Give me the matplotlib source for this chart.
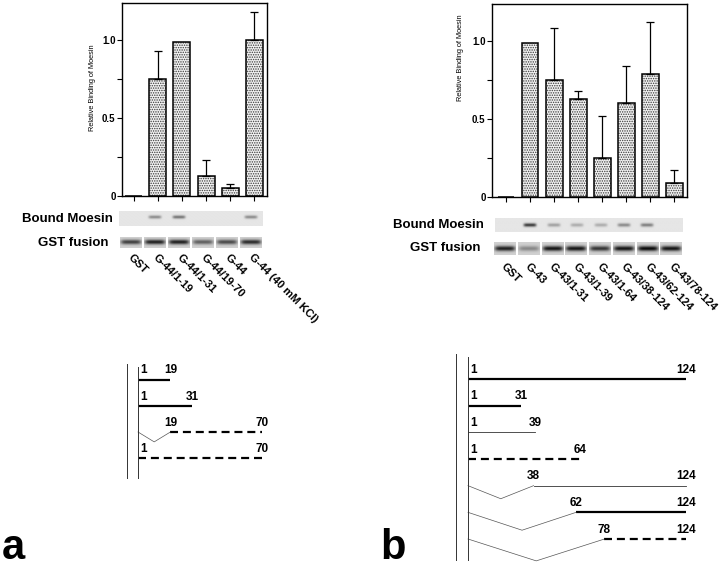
import numpy as np
import matplotlib.pyplot as plt
from matplotlib.ticker import FixedLocator

plt.rcParams['font.family'] = ['Liberation Sans', 'DejaVu Sans']
plt.rcParams['hatch.linewidth'] = 0.7

# ---- panel a data ----
a_labels = ['GST', 'G-44/1-19', 'G-44/1-31', 'G-44/19-70', 'G-44', 'G-44 (40 mM KCl)']
a_binding = [0, 0.75, 0.99, 0.13, 0.05, 1.00]
a_err = [0, 0.18, 0, 0.10, 0.03, 0.18]
a_moesin_band = [0, 0.4, 0.5, 0, 0, 0.4]
a_gst_band = [0.7, 0.85, 0.85, 0.55, 0.65, 0.8]

# ---- panel b data ----
b_labels = ['GST', 'G-43', 'G-43/1-31', 'G-43/1-39', 'G-43/1-64',
            'G-43/38-124', 'G-43/62-124', 'G-43/78-124']
b_binding = [0, 0.99, 0.75, 0.63, 0.25, 0.60, 0.79, 0.09]
b_err = [0, 0, 0.33, 0.05, 0.27, 0.24, 0.33, 0.08]
b_moesin_band = [0, 0.75, 0.3, 0.25, 0.25, 0.4, 0.45, 0]
b_gst_band = [0.85, 0.35, 0.9, 0.9, 0.75, 0.9, 0.95, 0.9]

# ---- construct schematics ----
a_starts = [1, 1, 19, 1]
a_ends = [19, 31, 70, 70]
a_styles = ['thick', 'thick', 'dashed', 'dashed']
a_dips = [0, 0, 0.38, 0]

b_starts = [1, 1, 1, 1, 38, 62, 78]
b_ends = [124, 31, 39, 64, 124, 124, 124]
b_styles = ['thick', 'thick', 'thin', 'dashed', 'thin', 'thick', 'dashed']
b_dips = [0, 0, 0, 0, 0.49, 0.67, 0.82]

W, H = 720, 568
fig = plt.figure(figsize=(W / 100, H / 100), dpi=100)


def px_axes(left, top, right, bottom):
    return fig.add_axes([left / W, 1 - bottom / H, (right - left) / W, (bottom - top) / H])


def bar_panel(ax, labels, vals, errs, xlim, pad, label_x, label_y):
    x = np.arange(len(labels))
    vals = np.array(vals)
    errs = np.array(errs)
    ax.bar(x, vals, width=0.7, color='#f2f2f2', edgecolor='#3a3a3a', hatch='.......',
           linewidth=0, zorder=2)
    ax.bar(x, vals, width=0.7, fill=False, edgecolor='black', linewidth=1.1, zorder=3)
    m = errs > 0
    ax.errorbar(x[m], vals[m], yerr=[np.zeros(m.sum()), errs[m]], fmt='none',
                ecolor='black', elinewidth=0.9, capsize=2.8, capthick=0.9, zorder=4)
    ax.set_xlim(*xlim)
    ax.set_ylim(0, 1.237)
    ax.yaxis.set_major_locator(FixedLocator([0, 0.5, 1.0]))
    ax.yaxis.set_minor_locator(FixedLocator([0.25, 0.75]))
    ax.set_yticklabels(['0', '0.5', '1.0'], fontsize=7, fontweight='bold')
    ax.tick_params(axis='y', which='both', length=3.6, width=0.8, pad=1)
    ax.set_xticks(x)
    ax.set_xticklabels(labels, rotation=-45, ha='left', va='top', rotation_mode='anchor',
                       fontsize=8, fontweight='bold')
    ax.tick_params(axis='x', length=3.6, width=0.8, pad=pad)
    for sp in ax.spines.values():
        sp.set_linewidth(1.0)
    ax.set_ylabel('Relative Binding of Moesin', fontsize=5.3)
    ax.yaxis.set_label_coords(label_x, label_y)


def blot_strip(ax, bands, bg, center, sigma, gap, band_w):
    rows = np.linspace(0, 1, 40)[:, None]
    cols = np.linspace(-1, 1, 30)[None, :]
    for i, s in enumerate(bands):
        prof = np.exp(-((rows - center) / sigma) ** 2) * np.exp(-(cols / band_w) ** 6)
        img = bg - s * prof * bg
        ax.imshow(img, cmap='gray', vmin=0, vmax=1, aspect='auto',
                  extent=(i - 0.5 + gap, i + 0.5 - gap, 1, 0), interpolation='bilinear')
    ax.set_xlim(-0.5, len(bands) - 0.5)
    ax.set_ylim(1, 0)
    ax.axis('off')


def schematic(ax, starts, ends, styles, dips, outer_x, v_top, v_bottom):
    for r in range(len(starts)):
        s, e, st = starts[r], ends[r], styles[r]
        if st == 'thick':
            ax.plot([s, e], [r, r], color='black', lw=1.6, solid_capstyle='butt')
        elif st == 'thin':
            ax.plot([s, e], [r, r], color='#333333', lw=0.6)
        else:
            ax.plot([s, e], [r, r], color='black', lw=1.6, linestyle=(0, (3.6, 2.2)),
                    dash_capstyle='butt')
        if dips[r] > 0:
            ax.plot([1, (1 + s) / 2, s], [r, r + dips[r], r], color='#555555', lw=0.5)
        ax.annotate(str(s), (s + (1.5 if s == 1 else 0), r), xytext=(0, 2.5),
                    textcoords='offset points', ha='left' if s == 1 else 'center',
                    va='bottom', fontsize=8.5, fontweight='bold')
        ax.annotate(str(e), (e, r), xytext=(0, 2.5), textcoords='offset points',
                    ha='center', va='bottom', fontsize=8.5, fontweight='bold')
    ax.plot([outer_x, outer_x], [v_top - 0.1, v_bottom], color='#333333', lw=0.7)
    ax.plot([1, 1], [v_top, v_bottom], color='#333333', lw=0.7)
    ax.axis('off')


# panel a
ax_a = px_axes(122, 3, 267, 196)
bar_panel(ax_a, a_labels, a_binding, a_err, (-0.48, 5.52), 36.8, -0.18, 0.56)
blot_strip(px_axes(119, 211, 263, 226), a_moesin_band, 0.9, 0.4, 0.11, 0, 0.55)
blot_strip(px_axes(119, 237, 263, 248), a_gst_band, 0.82, 0.5, 0.2, 0.05, 0.95)
fig.text(113 / W, 1 - 219 / H, 'Bound Moesin', ha='right', va='center', fontsize=9.5,
         fontweight='bold')
fig.text(109 / W, 1 - 243 / H, 'GST fusion', ha='right', va='center', fontsize=9.5,
         fontweight='bold')

ax_sa = px_axes(115, 355, 300, 490)
ax_sa.set_xlim(-11.78, 91)
ax_sa.set_ylim(4.23, -0.96)
schematic(ax_sa, a_starts, a_ends, a_styles, a_dips, -5.1, -0.5, 3.77)

# panel b
ax_b = px_axes(492, 4, 687, 197)
bar_panel(ax_b, b_labels, b_binding, b_err, (-0.58, 7.52), 42.5, -0.144, 0.72)
blot_strip(px_axes(495, 218, 682, 232), b_moesin_band, 0.9, 0.5, 0.13, 0, 0.55)
blot_strip(px_axes(493, 242, 683, 255), b_gst_band, 0.82, 0.5, 0.2, 0.05, 0.95)
fig.text(484 / W, 1 - 225 / H, 'Bound Moesin', ha='right', va='center', fontsize=9.5,
         fontweight='bold')
fig.text(480 / W, 1 - 248 / H, 'GST fusion', ha='right', va='center', fontsize=9.5,
         fontweight='bold')

ax_sb = px_axes(445, 340, 710, 568)
ax_sb.set_xlim(-11.98, 137.57)
ax_sb.set_ylim(7.087, -1.462)
schematic(ax_sb, b_starts, b_ends, b_styles, b_dips, -5.77, -0.82, 6.79)

fig.text(2 / W, 1 - 559 / H, 'a', fontsize=30, fontweight='bold', va='baseline', ha='left')
fig.text(380 / W, 1 - 559 / H, 'b', fontsize=30, fontweight='bold', va='baseline', ha='left')

fig.savefig('out.png', dpi=100)
